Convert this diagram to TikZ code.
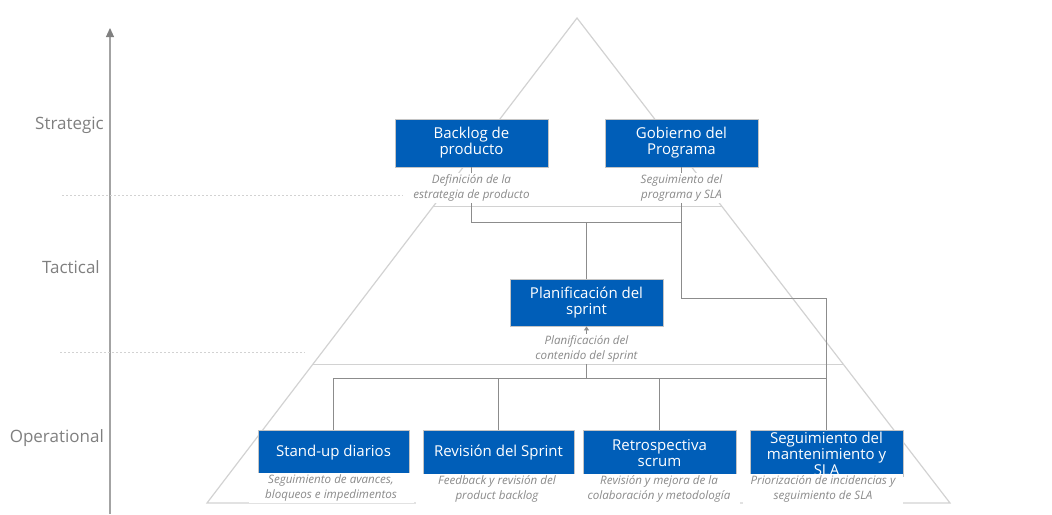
\documentclass[tikz,border=0pt]{standalone}
\usepackage{fontspec}
\setmainfont{Open Sans}
\usetikzlibrary{arrows.meta,calc}
\definecolor{boxblue}{HTML}{005EB8}
\definecolor{boxedge}{HTML}{C4C4C4}
\definecolor{trigray}{HTML}{D2D2D2}
\definecolor{conngray}{HTML}{8C8C8C}
\definecolor{descgray}{HTML}{8A8A8A}
\definecolor{levelgray}{HTML}{7F7F7F}
\tikzset{
  stagebox/.style={draw=boxedge, line width=0.8pt, fill=boxblue, text=white,
    minimum width=153pt, minimum height=48pt, inner sep=2pt, align=center,
    font=\fontsize{15}{16}\selectfont},
  boxtext/.style={text=white, align=center, inner sep=0pt,
    font=\fontsize{15}{16}\selectfont},
  desc/.style={fill=white, text=descgray, align=center, inner xsep=4pt, inner ysep=1.5pt,
    font=\fontsize{11.6}{14.8}\selectfont\itshape},
  level/.style={text=levelgray, anchor=east, inner sep=0pt,
    font=\fontsize{17}{20}\selectfont},
  conn/.style={draw=conngray, line width=0.9pt},
  tri/.style={draw=trigray, line width=1.2pt},
  sep/.style={draw=trigray, line width=0.8pt, dash pattern=on 2pt off 2pt},
  axis/.style={draw=conngray!80, line width=1.1pt,
    -{Triangle[width=8pt,length=9pt,color=conngray!110]}},
}
\begin{document}
\begin{tikzpicture}[x=1pt,y=-1pt]
\useasboundingbox (0,0) rectangle (1052,514);

% pyramid outline and its level bands
\coordinate (apex) at (577,18);
\coordinate (baseL) at (207,503);
\coordinate (baseR) at (950,503);
\draw[tri] (apex) -- (baseR) -- (baseL) -- cycle;
\draw[tri, line width=0.9pt] ($(apex)!0.3876!(baseL)$) -- ($(apex)!0.3876!(baseR)$);
\draw[tri, line width=0.9pt] ($(apex)!0.7134!(baseL)$) -- ($(apex)!0.7134!(baseR)$);

% vertical axis and level separators
\draw[axis] (110,514) -- (110,28);
\draw[sep] (62,195) -- (405,195);
\draw[sep] (60,352) -- (305,352);

\node[level] (lvS) at (104,125) {Strategic};
\node[level] (lvT) at (100,267) {Tactical};
\node[level] (lvO) at (104,438) {Operational};

% stage boxes
\node[stagebox] (bl) at (471.5,143) {Backlog de\\producto};
\node[stagebox] (gp) at (681.5,143) {Gobierno del\\Programa};
\node[stagebox, minimum height=47pt] (pl) at (586.5,302.5) {Planificación del\\sprint};

\node[stagebox, minimum width=151pt, minimum height=46pt] (sd) at (333.5,453) {Stand-up diarios};
\node[stagebox, minimum width=151pt, minimum height=46pt] (rv) at (498.5,453) {Revisión del Sprint};
\node[stagebox, minimum width=153pt, minimum height=46pt] (rt) at (659.5,453) {Retrospectiva\\scrum};
\node[stagebox, minimum width=153pt, minimum height=46pt] (sm) at (826.5,453) {};
\node[boxtext] (smtext) at (826.5,454) {Seguimiento del\\mantenimiento y\\SLA};

% junction points of the connectors
\coordinate (tj) at (586.5,222);
\coordinate (bj) at (586.5,378);

% connectors
\draw[conn] (bl.south) -- ++(0,55) -| (gp.south);
\draw[conn] (tj) -- (pl.north);
\draw[conn] (gp.south) -- ++(0,131) -| (sm.north);
\draw[conn] (sd.north) |- (sm.north |- bj);
\draw[conn] (rv.north) -- (rv.north |- bj);
\draw[conn] (rt.north) -- (rt.north |- bj);
\draw[conn, -{Triangle[width=5pt,length=4pt]}] (bj) -- (pl.south);

% captions (white backing hides the lines running beneath)
\node[desc, minimum width=137pt] (blD) at (471.5,188) {Definición de la\\estrategia de producto};
\node[desc, minimum width=100pt] (gpD) at (681.5,188) {Seguimiento del\\programa y SLA};
\node[desc, minimum width=112pt] (plD) at (586.5,349) {Planificación del\\contenido del sprint};
\node[desc, minimum width=165pt, minimum height=28pt] (sdD) at (331,488) {Seguimiento de avances,\\bloqueos e impedimentos};
\node[desc, minimum width=162pt, minimum height=31pt] (rvD) at (497,489) {Feedback y revisión del\\product backlog};
\node[desc, minimum width=162pt, minimum height=31pt] (rtD) at (659,489) {Revisión y mejora de la\\colaboración y metodología};
\node[desc, minimum width=160pt, minimum height=31pt] (smD) at (823,489) {Priorización de incidencias y\\seguimiento de SLA};
\end{tikzpicture}
\end{document}
